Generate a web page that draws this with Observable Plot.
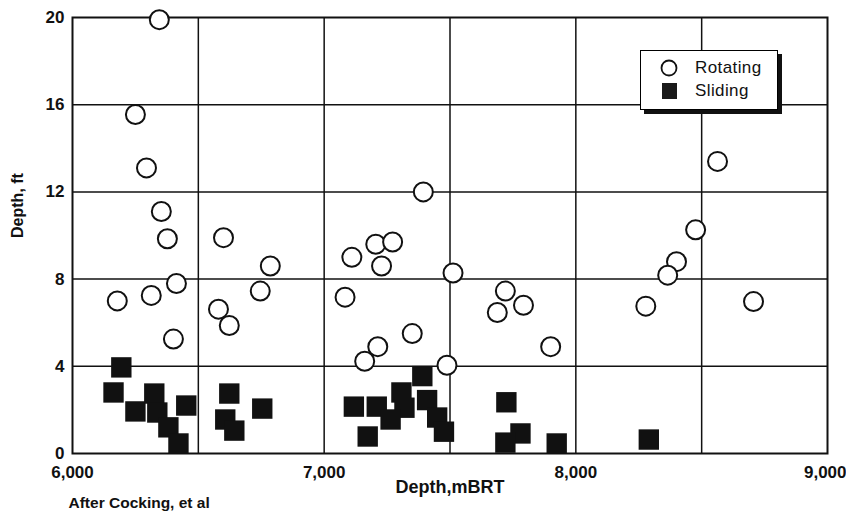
<!DOCTYPE html>
<html>
<head>
<meta charset="utf-8">
<script src="https://cdn.jsdelivr.net/npm/d3@7"></script>
<script src="https://cdn.jsdelivr.net/npm/@observablehq/plot@0.6"></script>
<style>
  html, body { margin: 0; padding: 0; background: #fff; }
  #wrap { position: relative; width: 846px; height: 517px; font-family: "Liberation Sans", Arial, sans-serif; }
  #legend { position: absolute; left: 640px; top: 50px; width: 136px; height: 58px; background: #fff;
            border: 1.5px solid #000; box-shadow: 4px 4px 0 #111; }
  #legend .row { position: absolute; left: 0; height: 22px; display: flex; align-items: center; }
  #legend .lab { position: absolute; left: 54px; font-size: 17px; letter-spacing: 0.4px; color: #111; line-height: 22px; }
</style>
</head>
<body>
<div id="wrap"></div>
<script>
// Rotating (circles)
const rotX = [6345, 6250, 6294, 6353, 6377, 6413, 6313, 6178, 6401,
              6600, 6786, 6746, 6580, 6623,
              7394, 7205, 7272, 7110, 7228, 7512, 7083, 7350, 7213, 7161, 7488,
              7720, 7688, 7792, 7900,
              8563, 8476, 8400, 8365, 8278, 8706];
const rotY = [19.9, 15.55, 13.1, 11.1, 9.85, 7.8, 7.25, 7.0, 5.25,
              9.9, 8.6, 7.45, 6.62, 5.87,
              12.0, 9.6, 9.7, 9.0, 8.6, 8.28, 7.17, 5.5, 4.9, 4.23, 4.05,
              7.45, 6.47, 6.8, 4.9,
              13.4, 10.26, 8.8, 8.18, 6.76, 6.97];
// Sliding (squares)
const slideX = [6194, 6163, 6250, 6325, 6337, 6381, 6421, 6452,
                6623, 6754, 6607, 6643,
                7390, 7307, 7409, 7118, 7209, 7319, 7264, 7449, 7173, 7476,
                7724, 7780, 7720, 7924,
                8290];
const slideY = [3.95, 2.8, 1.93, 2.75, 1.88, 1.2, 0.46, 2.2,
                2.75, 2.06, 1.56, 1.05,
                3.55, 2.8, 2.45, 2.15, 2.15, 2.1, 1.56, 1.65, 0.78, 1.0,
                2.35, 0.92, 0.5, 0.46,
                0.64];

const xTicks = [6000, 7000, 8000];
const xTickLast = [9000];
const xGrid = [6500, 7000, 7500, 8000, 8500];
const yTicks = [0, 4, 8, 12, 16, 20];
const yGrid = [4, 8, 12, 16];
const seriesNames = ["Rotating", "Sliding"];
const xTitle = "Depth,mBRT";
const yTitle = "Depth, ft";
const caption = "After Cocking, et al";

const rotating = rotX.map((x, i) => ({x, y: rotY[i]}));
const sliding = slideX.map((x, i) => ({x, y: slideY[i]}));

const chart = Plot.plot({
  width: 846,
  height: 517,
  marginLeft: 72,
  marginRight: 19,
  marginTop: 17,
  marginBottom: 64,
  style: {fontFamily: "Liberation Sans, Arial, sans-serif", fontSize: "17px", fontWeight: "bold", color: "#111", background: "#fff"},
  x: {domain: [6000, 9000]},
  y: {domain: [0, 20]},
  marks: [
    Plot.gridX(xGrid, {stroke: "#111", strokeOpacity: 1, strokeWidth: 1.5}),
    Plot.gridY(yGrid, {stroke: "#111", strokeOpacity: 1, strokeWidth: 1.5}),
    Plot.frame({stroke: "#111", strokeWidth: 2}),
    Plot.axisX(xTicks, {tickSize: 0, tickPadding: 12, tickFormat: d3.format(","), label: null, fontSize: 17}),
    Plot.axisX(xTickLast, {tickSize: 0, tickPadding: 12, tickFormat: d3.format(","), label: null, fontSize: 17, textAnchor: "end", dx: 19}),
    Plot.axisY(yTicks, {tickSize: 0, tickPadding: 8, label: null, fontSize: 17}),
    Plot.dot(sliding, {x: "x", y: "y", symbol: "square", r: 11.5, fill: "#111", stroke: "none"}),
    Plot.dot(rotating, {x: "x", y: "y", r: 9.5, fill: "#fff", stroke: "#111", strokeWidth: 2}),
    Plot.text([xTitle], {frameAnchor: "bottom", dy: 39, fontSize: 18, fontWeight: "bold"}),
    Plot.text([yTitle], {frameAnchor: "left", textAnchor: "middle", rotate: -90, dx: -55, dy: -30, fontSize: 16, fontWeight: "bold"}),
    Plot.text([caption], {frameAnchor: "bottom-left", textAnchor: "start", dx: -4, dy: 54, fontSize: 15.5, fontWeight: "bold"})
  ]
});

const wrap = document.getElementById("wrap");
wrap.appendChild(chart);

// Legend box (overlay inside the plot area)
const legend = document.createElement("div");
legend.id = "legend";
const icons = [
  '<svg width="20" height="20"><circle cx="10" cy="10" r="7.5" fill="#fff" stroke="#111" stroke-width="1.8"/></svg>',
  '<svg width="20" height="20"><rect x="3" y="2" width="15" height="16" fill="#1a1a1a"/></svg>'
];
seriesNames.forEach((name, i) => {
  const row = document.createElement("div");
  row.className = "row";
  row.style.top = (6 + i * 23) + "px";
  row.style.width = "136px";
  row.innerHTML = '<span style="position:absolute;left:18px;top:1px;">' + icons[i] + '</span><span class="lab">' + name + '</span>';
  legend.appendChild(row);
});
wrap.appendChild(legend);
</script>
</body>
</html>
